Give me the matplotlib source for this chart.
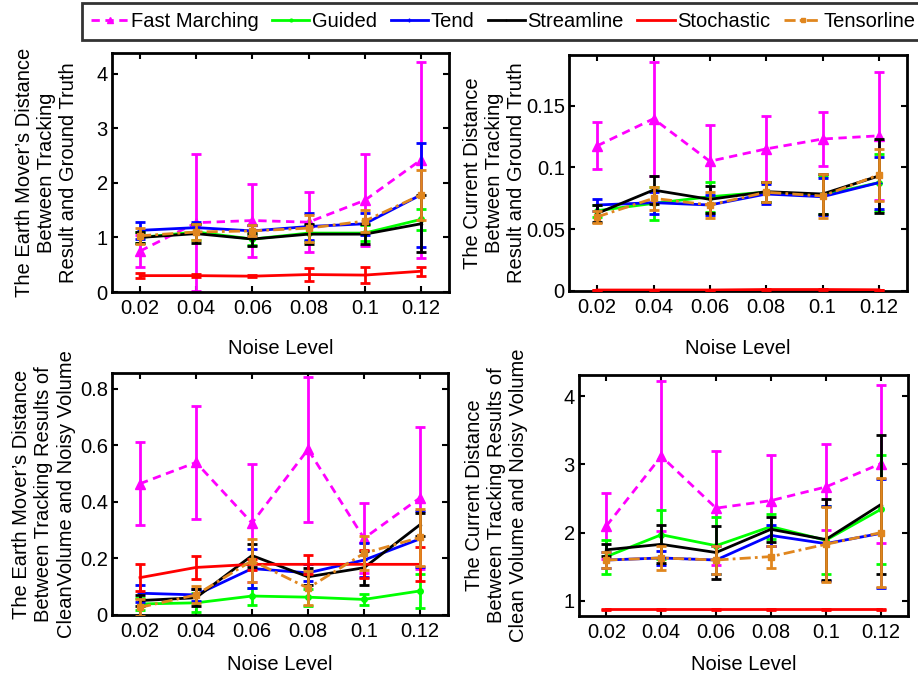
import matplotlib
matplotlib.use("Agg")
import matplotlib.pyplot as plt
from matplotlib.lines import Line2D
import numpy as np

plt.rcParams['font.family'] = ['Liberation Sans', 'DejaVu Sans']
plt.rcParams['font.size'] = 14.5

noise = [0.02, 0.04, 0.06, 0.08, 0.1, 0.12]
xtick_labels = ["0.02", "0.04", "0.06", "0.08", "0.1", "0.12"]
methods = ["Fast Marching", "Guided", "Tend", "Streamline", "Stochastic", "Tensorline"]

# Panel A: EMD vs ground truth
a_fm = [0.75, 1.27, 1.31, 1.28, 1.68, 2.42]
a_fm_e = [0.30, 1.25, 0.67, 0.55, 0.84, 1.80]
a_gu = [1.00, 1.10, 0.97, 1.08, 1.08, 1.33]
a_gu_e = [0.10, 0.15, 0.10, 0.15, 0.15, 0.20]
a_te = [1.13, 1.18, 1.12, 1.20, 1.25, 1.78]
a_te_e = [0.15, 0.10, 0.10, 0.25, 0.20, 0.95]
a_st = [1.00, 1.07, 0.97, 1.06, 1.06, 1.25]
a_st_e = [0.10, 0.17, 0.12, 0.18, 0.18, 0.52]
a_sc = [0.30, 0.30, 0.29, 0.32, 0.31, 0.38]
a_sc_e = [0.05, 0.03, 0.02, 0.12, 0.15, 0.08]
a_tl = [1.03, 1.10, 1.12, 1.17, 1.30, 1.78]
a_tl_e = [0.15, 0.15, 0.10, 0.25, 0.20, 0.46]

# Panel B: current distance vs ground truth
b_fm = [0.1175, 0.1394, 0.1050, 0.1150, 0.1230, 0.1256]
b_fm_e = [0.019, 0.046, 0.029, 0.027, 0.022, 0.052]
b_gu = [0.0650, 0.0709, 0.0763, 0.0800, 0.0777, 0.0877]
b_gu_e = [0.005, 0.0135, 0.012, 0.008, 0.015, 0.023]
b_te = [0.0696, 0.0715, 0.0696, 0.0785, 0.0763, 0.0877]
b_te_e = [0.005, 0.009, 0.008, 0.008, 0.015, 0.021]
b_st = [0.0628, 0.0817, 0.0742, 0.0804, 0.0785, 0.0931]
b_st_e = [0.007, 0.011, 0.011, 0.008, 0.016, 0.030]
b_sc = [0.0008, 0.0008, 0.0008, 0.0012, 0.0012, 0.0010]
b_sc_e = [0.0002, 0.0002, 0.0002, 0.0002, 0.0002, 0.0002]
b_tl = [0.0600, 0.0750, 0.0696, 0.0799, 0.0769, 0.0940]
b_tl_e = [0.005, 0.0095, 0.0108, 0.008, 0.0175, 0.021]

# Panel C: EMD clean vs noisy
c_fm = [0.464, 0.539, 0.325, 0.585, 0.271, 0.414]
c_fm_e = [0.147, 0.200, 0.210, 0.257, 0.123, 0.250]
c_gu = [0.039, 0.043, 0.067, 0.063, 0.055, 0.085]
c_gu_e = [0.020, 0.033, 0.030, 0.030, 0.020, 0.060]
c_te = [0.077, 0.071, 0.164, 0.149, 0.194, 0.269]
c_te_e = [0.030, 0.020, 0.070, 0.030, 0.060, 0.100]
c_st = [0.051, 0.061, 0.210, 0.135, 0.167, 0.319]
c_st_e = [0.020, 0.030, 0.040, 0.030, 0.060, 0.040]
c_sc = [0.132, 0.168, 0.179, 0.179, 0.179, 0.179]
c_sc_e = [0.048, 0.040, 0.020, 0.033, 0.050, 0.060]
c_tl = [0.027, 0.071, 0.192, 0.095, 0.218, 0.274]
c_tl_e = [0.030, 0.030, 0.075, 0.060, 0.060, 0.100]

# Panel D: current distance clean vs noisy
d_fm = [2.10, 3.12, 2.36, 2.47, 2.67, 3.01]
d_fm_e = [0.48, 1.10, 0.84, 0.67, 0.63, 1.16]
d_gu = [1.65, 1.97, 1.81, 2.09, 1.89, 2.34]
d_gu_e = [0.25, 0.36, 0.42, 0.18, 0.50, 0.80]
d_te = [1.60, 1.63, 1.60, 1.96, 1.84, 1.99]
d_te_e = [0.12, 0.10, 0.20, 0.15, 0.55, 0.80]
d_st = [1.75, 1.83, 1.71, 2.05, 1.90, 2.41]
d_st_e = [0.09, 0.28, 0.39, 0.18, 0.60, 1.02]
d_sc = [0.88, 0.88, 0.88, 0.88, 0.88, 0.88]
d_sc_e = [0.005, 0.005, 0.005, 0.005, 0.005, 0.005]
d_tl = [1.60, 1.63, 1.60, 1.65, 1.83, 2.00]
d_tl_e = [0.12, 0.17, 0.20, 0.16, 0.55, 0.80]

colors = ["#FF00FF", "#00FF00", "#0000FF", "#000000", "#FF0000", "#E0861E"]
styles = [(0, (3, 2)), "-", "-", "-", "-", (0, (4, 1.5, 1, 1.5))]
markers = ["^", "o", "+", ".", "", "s"]
msizes = [7, 4, 5, 3, 0, 5]

W, H = 918, 679
panels = [
    dict(pos=[112/W, 1-292/H, 337/W, 239/H],
         data=[(a_fm, a_fm_e), (a_gu, a_gu_e), (a_te, a_te_e), (a_st, a_st_e), (a_sc, a_sc_e), (a_tl, a_tl_e)],
         ylim=(0, 4.38), yticks=[0, 1, 2, 3, 4], yticklabels=["0", "1", "2", "3", "4"],
         ylabel="The Earth Mover\u2019s Distance\nBetween Tracking\nResult and Ground Truth", ylx=47, xly=349),
    dict(pos=[569/W, 1-291/H, 338/W, 236/H],
         data=[(b_fm, b_fm_e), (b_gu, b_gu_e), (b_te, b_te_e), (b_st, b_st_e), (b_sc, b_sc_e), (b_tl, b_tl_e)],
         ylim=(0, 0.191), yticks=[0, 0.05, 0.1, 0.15], yticklabels=["0", "0.05", "0.1", "0.15"],
         ylabel="The Current Distance\nBetween Tracking\nResult and Ground Truth", ylx=494, xly=349),
    dict(pos=[112/W, 1-615/H, 336/W, 242/H],
         data=[(c_fm, c_fm_e), (c_gu, c_gu_e), (c_te, c_te_e), (c_st, c_st_e), (c_sc, c_sc_e), (c_tl, c_tl_e)],
         ylim=(0, 0.855), yticks=[0, 0.2, 0.4, 0.6, 0.8], yticklabels=["0", "0.2", "0.4", "0.6", "0.8"],
         ylabel="The Earth Mover\u2019s Distance\nBetween Tracking Results of\nCleanVolume and Noisy Volume", ylx=44, xly=665),
    dict(pos=[579/W, 1-616/H, 329/W, 241/H],
         data=[(d_fm, d_fm_e), (d_gu, d_gu_e), (d_te, d_te_e), (d_st, d_st_e), (d_sc, d_sc_e), (d_tl, d_tl_e)],
         ylim=(0.78, 4.31), yticks=[1, 2, 3, 4], yticklabels=["1", "2", "3", "4"],
         ylabel="The Current Distance\nBetween Tracking Results of\nClean Volume and Noisy Volume", ylx=497, xly=665),
]

fig = plt.figure(figsize=(9.18, 6.79), dpi=100)

for p in panels:
    ax = fig.add_axes(p["pos"])
    for i, (vals, errs) in enumerate(p["data"]):
        ax.errorbar(noise, vals, yerr=errs, color=colors[i], linestyle=styles[i],
                    marker=markers[i], markersize=msizes[i], linewidth=2.0,
                    elinewidth=2.0, capsize=3.5, capthick=2.0, zorder=2 + i)
    ax.set_xlim(0.01, 0.13)
    ax.set_ylim(*p["ylim"])
    ax.set_xticks(noise)
    ax.set_xticklabels(xtick_labels)
    ax.set_yticks(p["yticks"])
    ax.set_yticklabels(p["yticklabels"])
    ax.tick_params(direction="in", top=True, right=True, length=4, width=1.5, labelsize=14.5)
    ax.tick_params(axis="x", pad=5)
    ax.tick_params(axis="y", pad=3)
    for s in ax.spines.values():
        s.set_linewidth(2.0)
    cy = p["pos"][1] + p["pos"][3] / 2
    fig.text(p["ylx"] / W, cy, p["ylabel"], rotation=90, ha="center", va="center",
             multialignment="center", fontsize=14.5, linespacing=1.2)
    fig.text(p["pos"][0] + p["pos"][2] / 2, 1 - p["xly"] / H, "Noise Level",
             ha="center", va="center", fontsize=14.5)

handles = [Line2D([], [], color=colors[i], linestyle=styles[i], marker=markers[i],
                  markersize=max(msizes[i] - 2, 0), linewidth=2.0) for i in range(6)]
leg = fig.legend(handles, methods, loc="upper left", bbox_to_anchor=(82/W, 1 - 3/H),
                 ncol=6, frameon=True, fancybox=False, fontsize=14.5, handlelength=1.85,
                 handletextpad=0.12, columnspacing=0.68, borderpad=0.45, borderaxespad=0)
leg.get_frame().set_edgecolor("black")
leg.get_frame().set_linewidth(2.0)

fig.savefig("out.png", dpi=100)
